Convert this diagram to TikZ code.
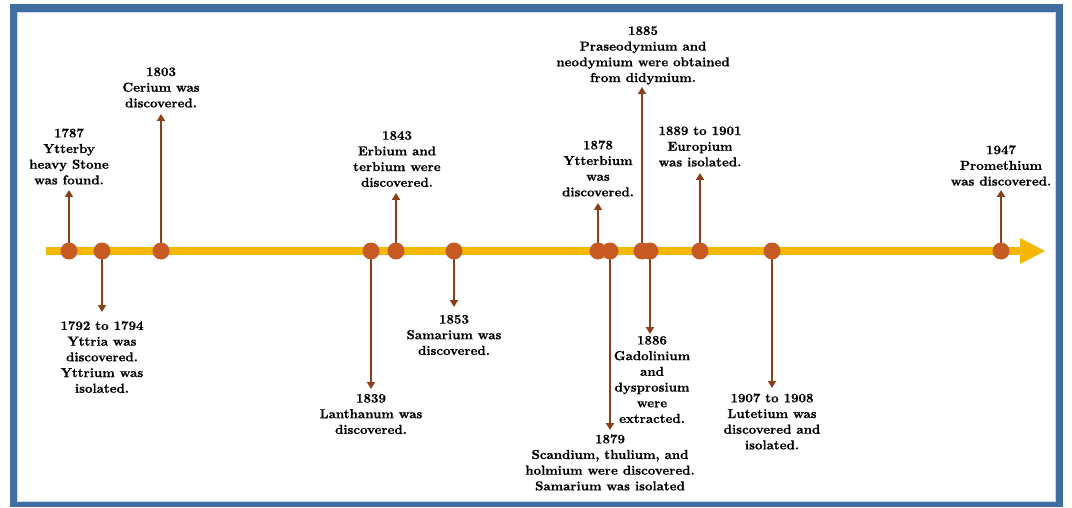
\documentclass[tikz,border=0pt]{standalone}
\usepackage{fontspec}
\usetikzlibrary{arrows.meta}
\newfontfamily\lblfont{lmroman10-bold.otf}[FakeBold=0.6]
\definecolor{framec}{HTML}{416EA0}
\definecolor{framel}{HTML}{C9D9EC}
\definecolor{linec}{HTML}{F5B800}
\definecolor{dotc}{HTML}{C65A22}
\definecolor{arrc}{HTML}{8A3F16}
\tikzset{
  dot/.style={circle, fill=dotc, inner sep=0pt, minimum size=17pt},
  conn/.style={draw=arrc, line width=2.8pt, -{Triangle[length=7pt,width=8pt]}},
  lbl/.style={align=center, inner sep=0pt, font=\lblfont\fontsize{13}{15.7}\selectfont, text=black},
}
\begin{document}
\begin{tikzpicture}[x=1pt,y=-1pt]
\useasboundingbox (0,0) rectangle (1072,508);
% frame
\fill[framec] (10,4) rectangle (1063,507);
\fill[framel] (17,12) rectangle (1056,502);
\fill[white] (18,13) rectangle (1055,501);
% timeline axis
\coordinate (axs) at (46,251);
\coordinate (axe) at (1022,251);
\draw[linec, line width=8pt] (axs) -- (axe);
\fill[linec] (1020,238) -- (1045,251) -- (1020,264) -- cycle;
% arrow tips
\coordinate (t1787) at (69,190);
\coordinate (t1792) at (102,312);
\coordinate (t1803) at (161,114);
\coordinate (t1839) at (371,389);
\coordinate (t1843) at (396,193);
\coordinate (t1853) at (454,307);
\coordinate (t1878) at (598,203);
\coordinate (t1879) at (610,430);
\coordinate (t1885) at (642,87);
\coordinate (t1886) at (650,334);
\coordinate (t1889) at (700,173);
\coordinate (t1907) at (772,388);
\coordinate (t1947) at (1001,190);
% dots
\foreach \n/\x in {1787/69,1792/102,1803/161,1839/371,1843/396,1853/454,1878/598,1879/610,1885/642,1886/650,1889/700,1907/772,1947/1001}
  {\coordinate (p\n) at (\x,251);}
% connectors (drawn below dots)
\foreach \n in {1787,1792,1803,1839,1843,1853,1878,1879,1885,1886,1889,1907,1947}
  {\draw[conn] (p\n) -- (t\n);}
\foreach \n in {1787,1792,1803,1839,1843,1853,1878,1879,1885,1886,1889,1907,1947}
  {\node[dot] (d\n) at (p\n) {};}
% labels
\node[lbl] (l1787) at (69,156.5) {1787\\Ytterby\\heavy Stone\\was found.};
\node[lbl] (l1803) at (161,87.5) {1803\\Cerium was\\discovered.};
\node[lbl] (l1843) at (397,159) {1843\\Erbium and\\terbium were\\discovered.};
\node[lbl] (l1885) at (643,55.5) {1885\\Praseodymium and\\neodymium were obtained\\from didymium.};
\node[lbl] (l1878) at (598,168.5) {1878\\Ytterbium\\was\\discovered.};
\node[lbl] (l1889) at (700,146.5) {1889 to 1901\\Europium\\was isolated.};
\node[lbl] (l1947) at (1001,165.5) {1947\\Promethium\\was discovered.};
\node[lbl] (l1792) at (102,357) {1792 to 1794\\Yttria was\\discovered.\\Yttrium was\\isolated.};
\node[lbl] (l1839) at (371,414) {1839\\Lanthanum was\\discovered.};
\node[lbl] (l1853) at (454,335) {1853\\Samarium was\\discovered.};
\node[lbl] (l1886) at (652,379.5) {1886\\Gadolinium\\and\\dysprosium\\were\\extracted.};
\node[lbl] (l1879) at (610,462.5) {1879\\Scandium, thulium, and\\holmium were discovered.\\Samarium was isolated};
\node[lbl] (l1907) at (772,421.5) {1907 to 1908\\Lutetium was\\discovered and\\isolated.};
\end{tikzpicture}
\end{document}
